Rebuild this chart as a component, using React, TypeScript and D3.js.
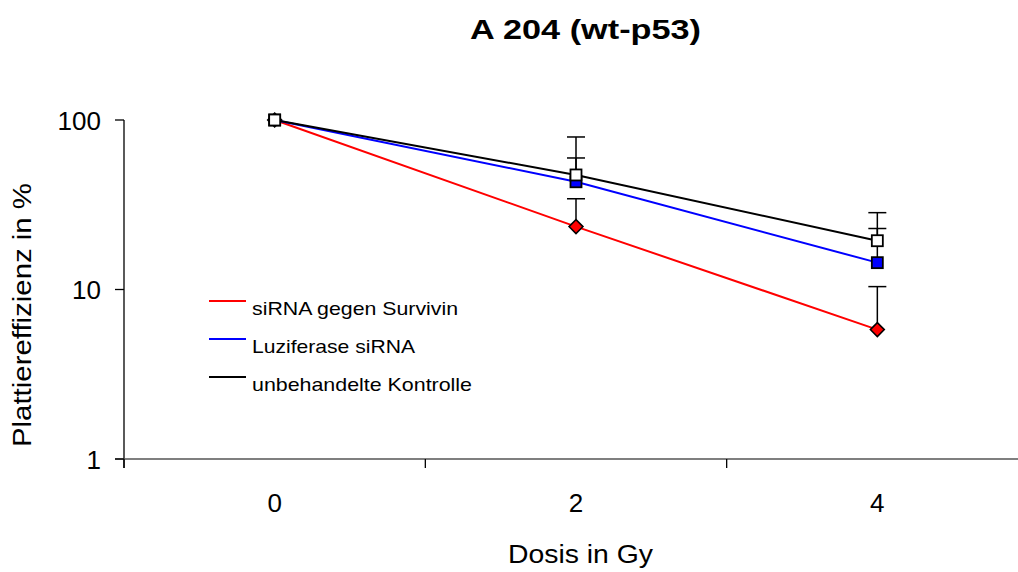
import React from "react";
import * as d3 from "d3";

const categories = ["0", "2", "4"];
const yTicks = [1, 10, 100];
const seriesNames = ["siRNA gegen Survivin", "Luziferase siRNA", "unbehandelte Kontrolle"];
const survivinValues = [100, 23.5, 5.8];
const survivinUpper = [100, 34.3, 10.4];
const luciferaseValues = [100, 43.2, 14.4];
const luciferaseUpper = [100, 59.7, 22.9];
const controlValues = [100, 47.4, 19.4];
const controlUpper = [100, 79.4, 28.4];

const W = 1018;
const H = 572;
const left = 124;
const right = 1028;
const top = 120;
const bottom = 459;
const font = "'Liberation Sans', Arial, sans-serif";
const legendWidths = [206, 163, 220];

export default function App() {
  const x = d3.scaleBand<string>().domain(categories).range([left, right]).padding(0);
  const y = d3.scaleLog().domain([1, 100]).range([bottom, top]);
  const cx = (c: string) => (x(c) as number) + x.bandwidth() / 2;

  const series = [
    { name: seriesNames[0], values: survivinValues, upper: survivinUpper, color: "#ff0000", marker: "diamond", fill: "#ff0000" },
    { name: seriesNames[1], values: luciferaseValues, upper: luciferaseUpper, color: "#0000ff", marker: "square", fill: "#0000ff" },
    { name: seriesNames[2], values: controlValues, upper: controlUpper, color: "#000000", marker: "square", fill: "#ffffff" },
  ];

  const line = d3
    .line<number>()
    .x((_, i) => cx(categories[i]))
    .y((d) => y(d));

  const boundaries = categories.map((c) => x(c) as number);

  return (
    <svg width={W} height={H} style={{ position: "absolute", left: 0, top: 0, background: "#fff" }}>
      <text x={585.5} y={39} textAnchor="middle" fontFamily={font} fontWeight="bold" fontSize={28} textLength={231} lengthAdjust="spacingAndGlyphs">
        A 204 (wt-p53)
      </text>
      {/* axes */}
      <line x1={left} y1={top} x2={left} y2={bottom + 9} stroke="#000" strokeWidth={1.3} />
      <line x1={left - 9} y1={bottom} x2={W} y2={bottom} stroke="#555" strokeWidth={1.5} />
      {yTicks.map((t) => (
        <g key={t}>
          <line x1={left - 9} x2={left} y1={y(t)} y2={y(t)} stroke="#000" strokeWidth={1.3} />
          <text x={101} y={y(t) + 9.5} textAnchor="end" fontFamily={font} fontSize={26}>
            {t}
          </text>
        </g>
      ))}
      {boundaries.map((b, i) => (
        <line key={i} x1={b} x2={b} y1={bottom} y2={bottom + 9} stroke="#000" strokeWidth={1.3} />
      ))}
      {categories.map((c) => (
        <text key={c} x={cx(c)} y={512} textAnchor="middle" fontFamily={font} fontSize={26}>
          {c}
        </text>
      ))}
      <text x={508} y={563} fontFamily={font} fontSize={25} textLength={145} lengthAdjust="spacingAndGlyphs">
        Dosis in Gy
      </text>
      <text
        transform={`translate(31,${447}) rotate(-90)`}
        fontFamily={font}
        fontSize={25}
        textLength={264}
        lengthAdjust="spacingAndGlyphs"
      >
        Plattiereffizienz in %
      </text>
      {/* error bars */}
      {series.map((s, si) =>
        s.values.map((v, i) =>
          i === 0 ? null : (
            <g key={`e${si}-${i}`}>
              <line x1={cx(categories[i])} x2={cx(categories[i])} y1={y(v)} y2={y(s.upper[i])} stroke="#000" strokeWidth={1.5} />
              <line x1={cx(categories[i]) - 9} x2={cx(categories[i]) + 9} y1={y(s.upper[i])} y2={y(s.upper[i])} stroke="#000" strokeWidth={1.5} />
            </g>
          )
        )
      )}
      {/* lines and markers */}
      {series.map((s, si) => (
        <g key={si}>
          <path d={line(s.values) as string} fill="none" stroke={s.color} strokeWidth={2} />
          {s.values.map((v, i) => {
            const px = cx(categories[i]);
            const py = y(v);
            return s.marker === "diamond" ? (
              <path
                key={i}
                d={`M${px},${py - 7}L${px + 7},${py}L${px},${py + 7}L${px - 7},${py}Z`}
                fill={s.fill}
                stroke="#000"
                strokeWidth={1.5}
              />
            ) : (
              <rect key={i} x={px - 5.5} y={py - 5.5} width={11} height={11} fill={s.fill} stroke="#000" strokeWidth={1.8} />
            );
          })}
        </g>
      ))}
      {/* legend */}
      {series.map((s, i) => (
        <g key={`l${i}`}>
          <line x1={209} x2={246} y1={301 + i * 38} y2={301 + i * 38} stroke={s.color} strokeWidth={2} />
          <text x={252} y={315 + i * 38} fontFamily={font} fontSize={18.5} textLength={legendWidths[i]} lengthAdjust="spacingAndGlyphs">
            {s.name}
          </text>
        </g>
      ))}
    </svg>
  );
}
